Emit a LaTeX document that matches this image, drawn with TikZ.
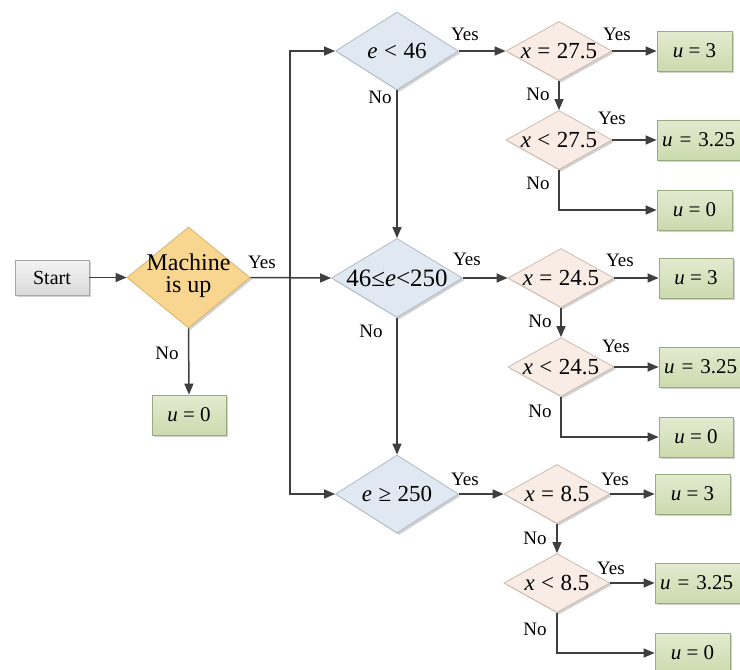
\documentclass[tikz,border=0pt]{standalone}
\usepackage{fontspec}
\setmainfont{Liberation Serif}
\usetikzlibrary{shapes.geometric,arrows.meta,shadows}
\definecolor{lineC}{HTML}{3F3F3F}
\definecolor{greenTop}{HTML}{E3EBD0}
\definecolor{greenBot}{HTML}{CCDAAE}
\definecolor{greenBd}{HTML}{9AAA80}
\definecolor{grayTop}{HTML}{F4F4F4}
\definecolor{grayBot}{HTML}{D9D9D9}
\definecolor{grayBd}{HTML}{A6A6A6}
\definecolor{orangeF}{HTML}{F9D690}
\definecolor{orangeBd}{HTML}{D9B46A}
\definecolor{blueF}{HTML}{E0E8F1}
\definecolor{blueBd}{HTML}{AFBAC6}
\definecolor{pinkF}{HTML}{F8ECE4}
\definecolor{pinkBd}{HTML}{CDBBAE}
\newcommand{\dtext}{\fontsize{23}{25}\selectfont}
\newcommand{\btext}{\fontsize{21}{23}\selectfont}
\newcommand{\ltext}{\fontsize{19}{21}\selectfont}
\newcommand{\eqs}{\hspace{6.5pt}=\hspace{6.5pt}}
\newcommand{\lts}{\hspace{6.5pt}<\hspace{6.5pt}}
\newcommand{\ges}{\hspace{6.5pt}≥\hspace{6.5pt}}
\begin{document}
\begin{tikzpicture}[x=1pt,y=-1pt,
  shd/.style={drop shadow={shadow xshift=2pt,shadow yshift=-2pt,fill=black,opacity=0.18}},
  gbox/.style={shd,draw=greenBd,line width=0.8pt,top color=greenTop,bottom color=greenBot,minimum width=75pt,minimum height=40pt,inner sep=0pt,font=\btext},
  sbox/.style={shd,draw=grayBd,line width=0.8pt,top color=grayTop,bottom color=grayBot,minimum width=74pt,minimum height=35pt,inner sep=0pt,font=\fontsize{20}{22}\selectfont},
  dia/.style={shd,shape=diamond,inner sep=0pt,line width=0.8pt},
  odia/.style={dia,draw=orangeBd,fill=orangeF,minimum width=123pt,minimum height=101pt},
  bdia/.style={dia,draw=blueBd,fill=blueF,minimum width=123pt,minimum height=78pt},
  pdia/.style={dia,draw=pinkBd,fill=pinkF,minimum width=106pt,minimum height=59pt},
  dt/.style={font=\dtext,inner sep=0pt},
  lbl/.style={font=\ltext,inner sep=0pt},
  arr/.style={draw=lineC,line width=1.5pt,-{Triangle[length=11pt,width=9pt]}},
  ln/.style={draw=lineC,line width=1.5pt}
]
\useasboundingbox (0,0) rectangle (740,670);
\fill[white] (0,0) rectangle (740,670);

% nodes
\node[sbox] (start) at (52,277.5) {Start};
\node[odia] (mach) at (188.5,277.5) {};
\node[font=\fontsize{24}{22}\selectfont,align=center,inner sep=0pt] (macht) at (188.5,276) {Machine\\is up};
\node[gbox,minimum width=74pt] (u0m) at (189,415) {\textit{u} = 0};

\node[bdia] (e1) at (397,51) {};
\node[dt] (e1t) at (397,51) {\textit{e}\lts{}46};
\node[bdia,minimum width=131pt,minimum height=79pt] (e2) at (397,278) {};
\node[dt,font=\fontsize{25}{27}\selectfont] (e2t) at (397,278) {46≤\textit{e}<250};
\node[bdia] (e3) at (397,494) {};
\node[dt] (e3t) at (397,494) {\textit{e}\ges{}250};

\node[pdia] (xa1) at (559,51) {};
\node[dt] (xa1t) at (559,51) {\textit{x}\eqs{}27.5};
\node[pdia] (xb1) at (559,140) {};
\node[dt] (xb1t) at (559,140) {\textit{x}\lts{}27.5};
\node[pdia] (xa2) at (561,278) {};
\node[dt] (xa2t) at (561,278) {\textit{x}\eqs{}24.5};
\node[pdia] (xb2) at (561,367) {};
\node[dt] (xb2t) at (561,367) {\textit{x}\lts{}24.5};
\node[pdia] (xa3) at (557,494) {};
\node[dt] (xa3t) at (557,494) {\textit{x}\eqs{}8.5};
\node[pdia] (xb3) at (557,583) {};
\node[dt] (xb3t) at (557,583) {\textit{x}\lts{}8.5};

\node[gbox] (ua1) at (694.5,51) {\textit{u} = 3};
\node[gbox,minimum width=86pt,text width=80pt,align=left] (ub1) at (700,140) {\hspace{2pt}\textit{u} = 3.25};
\node[gbox] (uc1) at (694.5,210) {\textit{u} = 0};
\node[gbox,minimum width=74pt] (ua2) at (696,278) {\textit{u} = 3};
\node[gbox,minimum width=86pt,text width=80pt,align=left] (ub2) at (702,367) {\hspace{2pt}\textit{u} = 3.25};
\node[gbox,minimum width=74pt] (uc2) at (696,437) {\textit{u} = 0};
\node[gbox] (ua3) at (692.5,494) {\textit{u} = 3};
\node[gbox,minimum width=86pt,text width=80pt,align=left] (ub3) at (698,583) {\hspace{2pt}\textit{u} = 3.25};
\node[gbox] (uc3) at (692.5,653) {\textit{u} = 0};

% connectors
\coordinate (j) at (290,277.5);
\draw[arr] (start.east) -- (mach.west);
\draw[arr] (mach.south) -- (u0m.north);
\draw[arr] (mach.east) -- (e2.west);
\draw[arr] (j) |- (e1.west);
\draw[arr] (j) |- (e3.west);
\draw[arr] (e1.south) -- (e2.north);
\draw[arr] (e2.south) -- (e3.north);

\draw[arr] (e1.east) -- (xa1.west);
\draw[arr] (xa1.east) -- (ua1.west);
\draw[arr] (xa1.south) -- (xb1.north);
\draw[arr] (xb1.east) -- (ub1.west);
\draw[arr] (xb1.south) |- (uc1.west);

\draw[arr] (e2.east) -- (xa2.west);
\draw[arr] (xa2.east) -- (ua2.west);
\draw[arr] (xa2.south) -- (xb2.north);
\draw[arr] (xb2.east) -- (ub2.west);
\draw[arr] (xb2.south) |- (uc2.west);

\draw[arr] (e3.east) -- (xa3.west);
\draw[arr] (xa3.east) -- (ua3.west);
\draw[arr] (xa3.south) -- (xb3.north);
\draw[arr] (xb3.east) -- (ub3.west);
\draw[arr] (xb3.south) |- (uc3.west);

% labels
\node[lbl] (ym) at (262,262) {Yes};
\node[lbl] (nm) at (167,353) {No};
\node[lbl] (ye1) at (465,34) {Yes};
\node[lbl] (ne1) at (380,97) {No};
\node[lbl] (yxa1) at (617,34) {Yes};
\node[lbl] (nxa1) at (538,94) {No};
\node[lbl] (yxb1) at (612,118) {Yes};
\node[lbl] (nxb1) at (538,183) {No};
\node[lbl] (ye2) at (467,259) {Yes};
\node[lbl] (ne2) at (371,331) {No};
\node[lbl] (yxa2) at (620,260) {Yes};
\node[lbl] (nxa2) at (540,321) {No};
\node[lbl] (yxb2) at (616,346) {Yes};
\node[lbl] (nxb2) at (540,411) {No};
\node[lbl] (ye3) at (465,479) {Yes};
\node[lbl] (yxa3) at (615,479) {Yes};
\node[lbl] (nxa3) at (535,538) {No};
\node[lbl] (yxb3) at (611,568) {Yes};
\node[lbl] (nxb3) at (535,629) {No};
\end{tikzpicture}
\end{document}
